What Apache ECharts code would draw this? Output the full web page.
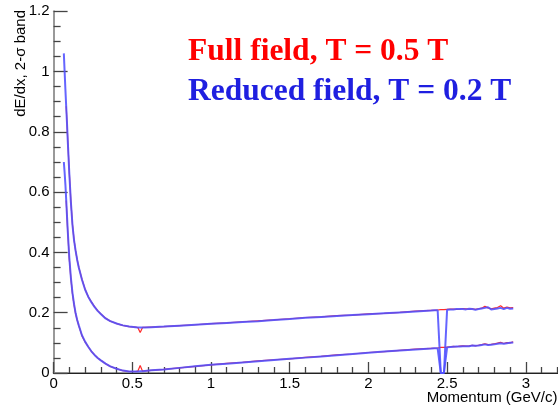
<!DOCTYPE html>
<html>
<head>
<meta charset="utf-8">
<script src="https://cdn.jsdelivr.net/npm/echarts@6/dist/echarts.min.js"></script>
<style>
  html, body { margin: 0; padding: 0; background: #fff; overflow: hidden; }
  #wrap { width: 558px; height: 408px; overflow: hidden; position: relative; }
  /* the frame runs on past the right edge of the window */
  #chart { width: 605px; height: 408px; }
</style>
</head>
<body>
<div id="wrap"><div id="chart"></div></div>
<script>
// Momentum grid (GeV/c)
const momentum = [
  0.065, 0.07, 0.075, 0.08, 0.085, 0.09, 0.1, 0.11, 0.12, 0.13, 0.14, 0.15, 0.16,
  0.18, 0.2, 0.22, 0.24, 0.26, 0.28, 0.3, 0.33, 0.36, 0.4, 0.44, 0.48,
  0.52, 0.535, 0.55, 0.565, 0.58, 0.62,
  0.7, 0.8, 0.9, 1.0, 1.1, 1.2, 1.3, 1.4, 1.5, 1.6, 1.7, 1.8, 1.9, 2.0, 2.1, 2.2, 2.3, 2.4,
  2.42, 2.44, 2.46, 2.48, 2.50, 2.52, 2.54, 2.56, 2.58, 2.60, 2.62, 2.64, 2.66,
  2.68, 2.70, 2.72, 2.74, 2.76, 2.78, 2.80, 2.82, 2.84, 2.86, 2.88, 2.90, 2.92
];

// Full field, T = 0.5 T : upper and lower edges of the 2-sigma band
const fullUpper = [
  null, null, null, 0.885, 0.83, 0.772, 0.662, 0.567, 0.492, 0.441, 0.405, 0.375, 0.351,
  0.311, 0.278, 0.253, 0.236, 0.220, 0.207, 0.196, 0.182, 0.172, 0.164, 0.158, 0.154,
  0.152, 0.151, 0.134, 0.151, 0.151, 0.152,
  0.154, 0.157, 0.160, 0.164, 0.166, 0.170, 0.173, 0.176, 0.180, 0.184, 0.186, 0.190, 0.192, 0.196, 0.198, 0.201, 0.205, 0.208,
  0.208, 0.209, 0.210, 0.210, 0.211, 0.212, 0.212, 0.211, 0.212, 0.214, 0.213, 0.212, 0.213,
  0.211, 0.213, 0.215, 0.221, 0.216, 0.213, 0.215, 0.217, 0.223, 0.215, 0.219, 0.216, 0.217
];
const fullLower = [
  null, null, null, 0.572, 0.518, 0.466, 0.376, 0.312, 0.262, 0.226, 0.196, 0.175, 0.157,
  0.124, 0.103, 0.087, 0.072, 0.060, 0.050, 0.042, 0.031, 0.022, 0.014, 0.008, 0.005,
  0.005, 0.006, 0.025, 0.006, 0.007, 0.009,
  0.012, 0.017, 0.022, 0.027, 0.032, 0.035, 0.040, 0.044, 0.047, 0.052, 0.055, 0.060, 0.063, 0.068, 0.071, 0.075, 0.079, 0.082,
  0.082, 0.083, 0.085, 0.085, 0.086, 0.087, 0.088, 0.087, 0.089, 0.090, 0.089, 0.090, 0.092,
  0.090, 0.092, 0.094, 0.097, 0.094, 0.095, 0.097, 0.099, 0.102, 0.098, 0.101, 0.100, 0.103
];

// Reduced field, T = 0.2 T
const reducedUpper = [
  1.06, 1.00, 0.94, 0.885, 0.83, 0.77, 0.66, 0.565, 0.49, 0.44, 0.405, 0.375, 0.35,
  0.31, 0.277, 0.253, 0.235, 0.219, 0.206, 0.196, 0.181, 0.172, 0.164, 0.158, 0.154,
  0.152, 0.151, 0.151, 0.151, 0.151, 0.152,
  0.154, 0.157, 0.160, 0.163, 0.166, 0.169, 0.172, 0.176, 0.179, 0.183, 0.186, 0.189, 0.192, 0.195, 0.198, 0.201, 0.204, 0.207,
  0.208, 0.208, 0.0, 0.0, 0.210, 0.211, 0.211, 0.212, 0.212, 0.212, 0.211, 0.213, 0.212,
  0.210, 0.212, 0.214, 0.216, 0.218, 0.211, 0.212, 0.214, 0.216, 0.212, 0.216, 0.213, 0.214
];
const reducedLower = [
  0.70, 0.665, 0.625, 0.575, 0.522, 0.47, 0.38, 0.315, 0.265, 0.228, 0.198, 0.176, 0.158,
  0.125, 0.104, 0.087, 0.072, 0.060, 0.050, 0.042, 0.031, 0.022, 0.014, 0.008, 0.005,
  0.005, 0.005, 0.006, 0.006, 0.007, 0.009,
  0.012, 0.017, 0.022, 0.027, 0.031, 0.035, 0.039, 0.043, 0.047, 0.051, 0.055, 0.059, 0.063, 0.067, 0.071, 0.075, 0.078, 0.081,
  0.082, 0.082, 0.0, 0.0, 0.085, 0.086, 0.087, 0.088, 0.088, 0.089, 0.089, 0.089, 0.091,
  0.090, 0.091, 0.093, 0.095, 0.093, 0.094, 0.095, 0.097, 0.099, 0.097, 0.099, 0.100, 0.101
];

const xTitle = 'Momentum (GeV/c)';
const yTitle = 'dE/dx, 2-σ band';
const fullLabel = 'Full field, T = 0.5 T';
const reducedLabel = 'Reduced field, T = 0.2 T';

function pairs(ys) {
  const out = [];
  for (let i = 0; i < momentum.length; i++) {
    if (ys[i] !== null) out.push([momentum[i], ys[i]]);
  }
  return out;
}

const RED = '#ff2a2a';
const BLUE = 'rgba(80,80,255,0.88)';
const tickColor = '#444';
const sans = '"Liberation Sans", Arial, Helvetica, sans-serif';
const serif = '"Liberation Serif", "Times New Roman", serif';

function lineSeries(ys, color, width, z) {
  return {
    type: 'line',
    data: pairs(ys),
    showSymbol: false,
    symbol: 'none',
    lineStyle: { color: color, width: width },
    z: z,
    silent: true
  };
}

const chart = echarts.init(document.getElementById('chart'), null, { renderer: 'canvas' });
chart.setOption({
  animation: false,
  backgroundColor: '#fff',
  grid: {
    left: 53.6, top: 11.2, bottom: 35, right: 0.5,
    containLabel: false, outerBoundsMode: 'none'
  },
  xAxis: [{
    type: 'value', min: 0, max: 3.5, interval: 0.5,
    axisLine: { show: true, onZero: false, lineStyle: { color: '#999', width: 2 } },
    axisTick: { show: true, inside: true, length: 11, lineStyle: { color: tickColor, width: 1.3 } },
    minorTick: { show: true, splitNumber: 5, length: 6, lineStyle: { color: tickColor, width: 1.3 } },
    splitLine: { show: false },
    axisLabel: { color: '#000', fontSize: 15, fontFamily: sans, margin: 3 }
  }, {
    type: 'value', min: 0, max: 3.5, position: 'top',
    axisLine: { show: true, lineStyle: { color: '#222', width: 1 } },
    axisTick: { show: false }, axisLabel: { show: false }, splitLine: { show: false }
  }],
  yAxis: [{
    type: 'value', min: 0, max: 1.2, interval: 0.2,
    axisLine: { show: true, onZero: false, lineStyle: { color: '#999', width: 2 } },
    axisTick: { show: true, inside: true, length: 14, lineStyle: { color: tickColor, width: 1.3 } },
    minorTick: { show: true, splitNumber: 4, length: 7, lineStyle: { color: tickColor, width: 1.3 } },
    splitLine: { show: false },
    axisLabel: { color: '#000', fontSize: 15, fontFamily: sans, margin: 4 }
  }],
  series: [
    lineSeries(fullUpper, RED, 1.2, 2),
    lineSeries(fullLower, RED, 1.2, 2),
    lineSeries(reducedUpper, BLUE, 2, 3),
    lineSeries(reducedLower, BLUE, 2, 3)
  ],
  graphic: [
    {
      type: 'text', left: 188, top: 36,
      style: { text: fullLabel, fill: '#ff0000', font: 'bold 31.5px ' + serif }
    },
    {
      type: 'text', left: 188, top: 76,
      style: { text: reducedLabel, fill: '#1f1fe0', font: 'bold 31.5px ' + serif }
    },
    {
      type: 'text', x: 557.5, y: 397.5,
      style: { text: xTitle, fill: '#000', font: '15px ' + sans, align: 'right', verticalAlign: 'middle' }
    },
    {
      type: 'text', x: 20.5, y: 10, rotation: Math.PI / 2,
      style: { text: yTitle, fill: '#000', font: '15px ' + sans, align: 'right', verticalAlign: 'middle' }
    }
  ]
});
</script>
</body>
</html>
